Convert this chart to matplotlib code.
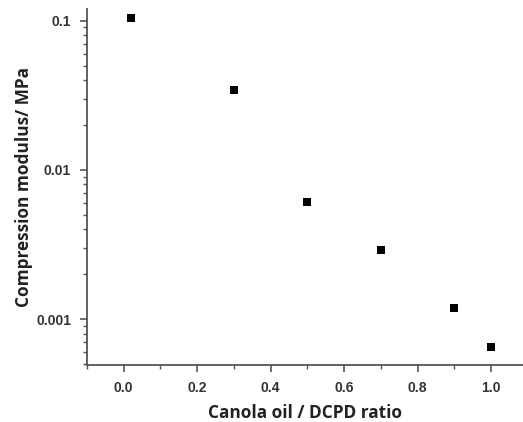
import matplotlib
matplotlib.use("Agg")
import matplotlib.pyplot as plt
from matplotlib.ticker import LogLocator, FixedLocator, NullFormatter

ratio = [0.02, 0.30, 0.50, 0.70, 0.90, 1.00]
modulus = [0.104, 0.0344, 0.00607, 0.00292, 0.00119, 0.000656]
x_ticks = [0.0, 0.2, 0.4, 0.6, 0.8, 1.0]
x_tick_labels = ["0.0", "0.2", "0.4", "0.6", "0.8", "1.0"]
y_ticks = [0.001, 0.01, 0.1]
y_tick_labels = ["0.001", "0.01", "0.1"]

fig = plt.figure(figsize=(5.23, 4.22), dpi=100)
ax = fig.add_axes([87/523, 57.3/422, 1 - 87/523, (364.7 - 9)/422])

ax.scatter(ratio, modulus, marker="s", s=30, color="black", zorder=3, linewidths=0)
ax.set_yscale("log")
ax.set_xlim(-0.1, 1.087)
ax.set_ylim(10**-3.304, 10**-0.922)

ax.xaxis.set_major_locator(FixedLocator(x_ticks))
ax.set_xticklabels(x_tick_labels)
ax.xaxis.set_minor_locator(FixedLocator([-0.1, 0.1, 0.3, 0.5, 0.7, 0.9]))
ax.yaxis.set_major_locator(FixedLocator(y_ticks))
ax.set_yticklabels(y_tick_labels)
ax.yaxis.set_minor_locator(LogLocator(base=10, subs=range(2, 10)))
ax.yaxis.set_minor_formatter(NullFormatter())

spine_color = "#555555"
for s in ["top", "right"]:
    ax.spines[s].set_visible(False)
for s in ["left", "bottom"]:
    ax.spines[s].set_color(spine_color)
    ax.spines[s].set_linewidth(1.3)

ax.tick_params(which="major", direction="out", length=5, width=1.2, color=spine_color,
               labelsize=10, pad=6.5)
ax.tick_params(which="minor", direction="out", length=3, width=1.0, color=spine_color)
for lab in ax.get_xticklabels() + ax.get_yticklabels():
    lab.set_fontfamily("Liberation Sans")
    lab.set_fontweight("bold")
    lab.set_color("#333333")

ax.set_xlabel("Canola oil / DCPD ratio", fontsize=12.4, fontweight="bold",
              family="Open Sans", color="#222222", labelpad=7)
ax.set_ylabel("Compression modulus/ MPa", fontsize=12.4, fontweight="bold",
              family="Open Sans", color="#222222", labelpad=2)

fig.savefig("out.png", dpi=100, facecolor="white")
